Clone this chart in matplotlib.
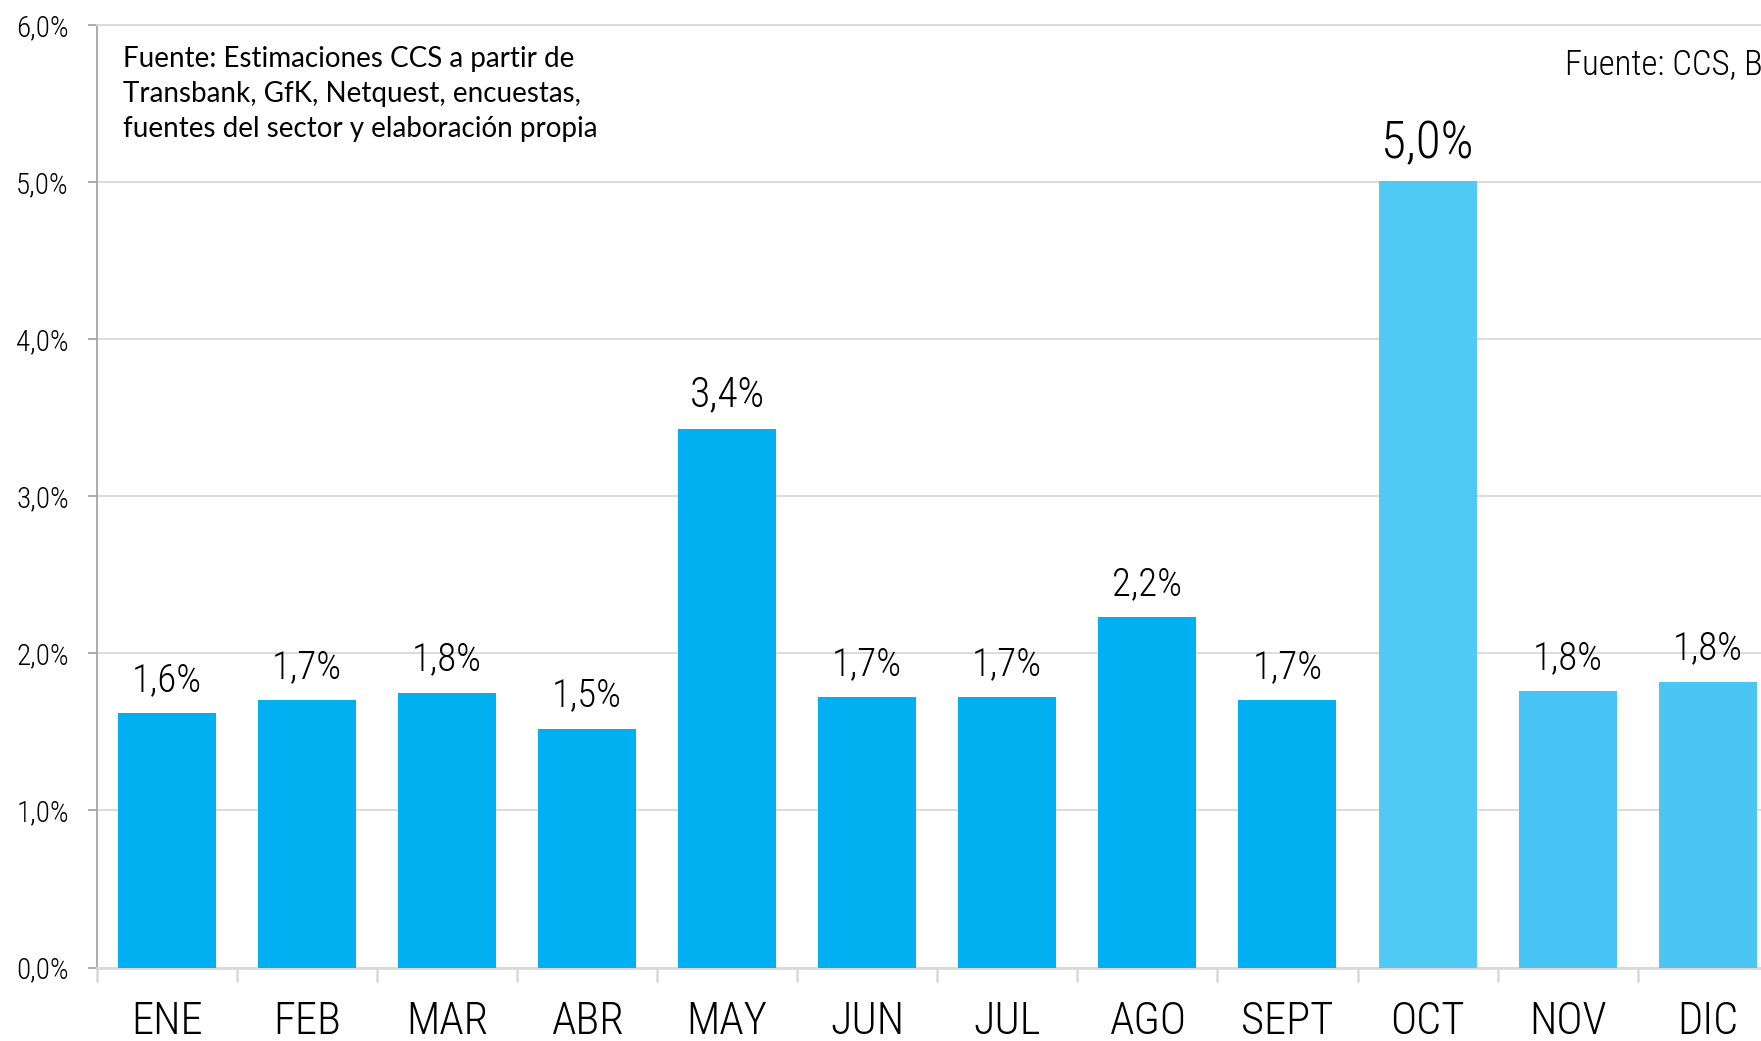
import os
import matplotlib
matplotlib.use("Agg")
import matplotlib.pyplot as plt
from matplotlib import font_manager as fm
from matplotlib.ticker import FixedLocator

# ---------------- data ----------------
months = ["ENE", "FEB", "MAR", "ABR", "MAY", "JUN", "JUL", "AGO", "SEPT", "OCT", "NOV", "DIC"]
values = [1.62, 1.70, 1.75, 1.52, 3.43, 1.72, 1.72, 2.23, 1.70, 5.01, 1.76, 1.82]
labels = ["1,6%", "1,7%", "1,8%", "1,5%", "3,4%", "1,7%", "1,7%", "2,2%", "1,7%", "5,0%", "1,8%", "1,8%"]
yticks = [0, 1, 2, 3, 4, 5, 6]
ytick_labels = ["0,0%", "1,0%", "2,0%", "3,0%", "4,0%", "5,0%", "6,0%"]
note_lines = ["Fuente: Estimaciones CCS a partir de",
              "Transbank, GfK, Netquest, encuestas,",
              "fuentes del sector y elaboración propia"]
source_right = "Fuente: CCS, BCCI"

# ---------------- styles ----------------
bar_colors = ["#00B0F0"] * 9 + ["#50C9F4", "#47C4F3", "#4BC6F3"]
label_sizes = [28, 28, 28, 28, 30, 28, 28, 28, 28, 37, 28, 28]


def pick_condensed():
    fl = fm.fontManager.ttflist
    order = ["robotocondensed", "roboto_condensed", "opensans_condensed",
             "opensanscondensed", "liberationsansnarrow", "dejavusanscondensed"]
    best = None
    for key in order:
        cands = []
        for f in fl:
            n = os.path.basename(f.fname).lower().replace("-", "")
            if key in n and "italic" not in n and "oblique" not in n and f.style == "normal":
                cands.append(f)
        if cands:
            def score(f):
                n = os.path.basename(f.fname).lower()
                if "light" in n and "extra" not in n:
                    return 0
                if "regular" in n:
                    return 1
                if n.endswith("condensed.ttf") or n.endswith("narrow.ttf"):
                    return 1
                if "bold" in n or "black" in n or "semi" in n or "medium" in n:
                    return 5
                return 3
            cands.sort(key=score)
            best = cands[0]
            break
    if best is not None:
        return fm.FontProperties(fname=best.fname)
    return fm.FontProperties(family="DejaVu Sans")


cond = pick_condensed()


def fp(size):
    p = cond.copy()
    p.set_size(size)
    return p


W, H = 1761, 1041
fig = plt.figure(figsize=(W / 100, H / 100), dpi=100)
left_px, bottom_px, top_px = 96.6, 967.5, 25.0
ax = fig.add_axes([left_px / W, 1 - bottom_px / H, 1 - left_px / W, (bottom_px - top_px) / H])

x = list(range(len(months)))
ax.bar(x, values, width=0.70, color=bar_colors, zorder=3)

ax.set_xlim(-0.5, 11.38)
ax.set_ylim(0, 6)

# grid
ax.set_yticks(yticks)
ax.yaxis.grid(True, color="#D9D9D9", linewidth=1.3, zorder=0)
ax.set_axisbelow(True)

ax.spines["right"].set_visible(False)
ax.spines["top"].set_color("#D9D9D9")
ax.spines["top"].set_linewidth(1.3)
ax.spines["left"].set_color("#A6A6A6")
ax.spines["left"].set_linewidth(1.3)
ax.spines["bottom"].set_color("#D9D9D9")
ax.spines["bottom"].set_linewidth(2.0)

# y ticks
ax.set_yticklabels(ytick_labels)
for t in ax.get_yticklabels():
    t.set_fontproperties(fp(21))
ax.tick_params(axis="y", length=6.5, width=1.3, color="#A6A6A6", pad=13.5)

# x ticks: labels at centers, tick marks at boundaries
ax.set_xticks(x)
ax.set_xticklabels(months)
for t in ax.get_xticklabels():
    t.set_fontproperties(fp(32))
ax.tick_params(axis="x", which="major", length=0, pad=24)
ax.xaxis.set_minor_locator(FixedLocator([i - 0.5 for i in range(len(months) + 1)]))
ax.tick_params(axis="x", which="minor", length=10, width=1.8, color="#D9D9D9")

# data labels
for xi, v, lab, sz in zip(x, values, labels, label_sizes):
    ax.annotate(lab, xy=(xi, v), xytext=(0, 16), textcoords="offset points",
                ha="center", va="baseline", fontproperties=fp(sz), color="#000000",
                zorder=4)

# notes
baselines = [67, 102, 136.5]
for line, b in zip(note_lines, baselines):
    fig.text(123 / W, 1 - b / H, line, family=["Lato", "DejaVu Sans"], fontsize=20,
             va="baseline", ha="left", color="#000000")

fig.text(1565 / W, 1 - 74 / H, source_right, fontproperties=fp(25),
         va="baseline", ha="left", color="#000000")

fig.savefig("out.png", dpi=100)
